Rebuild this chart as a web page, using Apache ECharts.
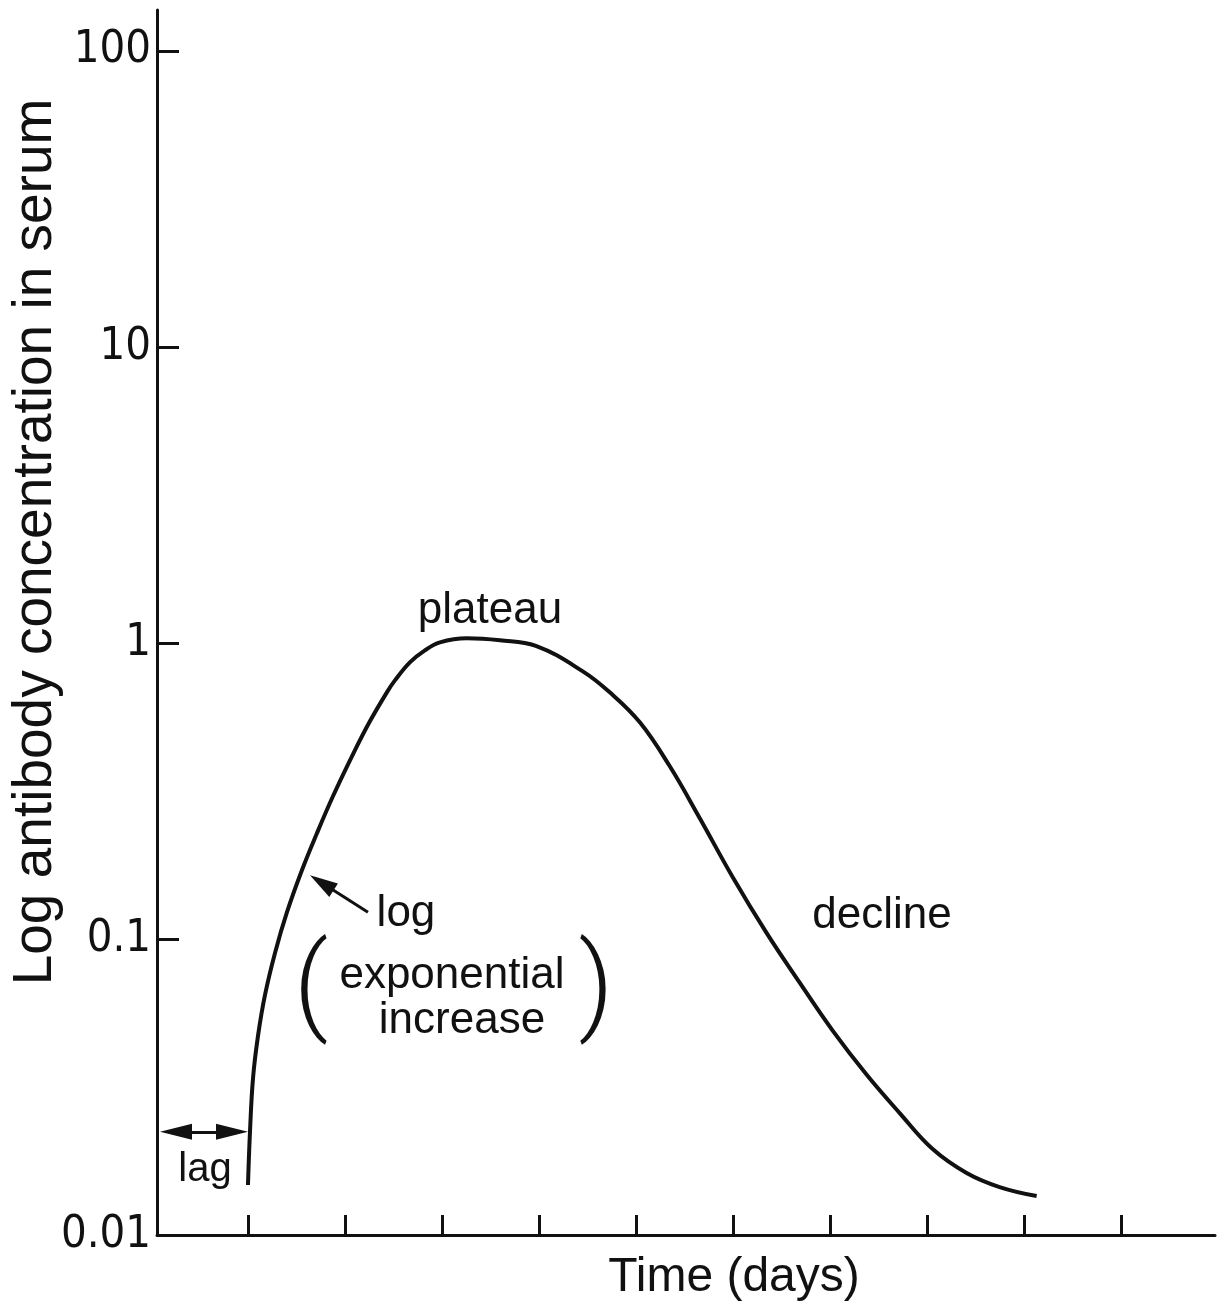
<!DOCTYPE html>
<html>
<head>
<meta charset="utf-8">
<script src="https://cdn.jsdelivr.net/npm/echarts@6/dist/echarts.min.js"></script>
<style>
  html, body { margin: 0; padding: 0; background: #fff; }
  #main { width: 1229px; height: 1307px; }
</style>
</head>
<body>
<div id="main"></div>
<script>
// time (ticks are unlabelled, one per step) and antibody level
const timeDays = [0.00, 0.021, 0.052, 0.103, 0.175, 0.278, 0.402, 0.556, 0.711, 0.876, 1.082, 1.257, 1.432, 1.515,
  1.669, 1.824, 1.979, 2.257, 2.597, 2.968, 3.452, 3.730, 4.040, 4.349, 4.658, 4.998, 5.348, 5.688, 6.028, 6.379,
  6.719, 7.059, 7.409, 7.749, 8.131];
const antibody = [0.01475, 0.02244, 0.03388, 0.04696, 0.06458, 0.08953, 0.1231, 0.1706, 0.2275, 0.3033, 0.4204,
  0.5433, 0.6807, 0.7469, 0.8595, 0.9434, 1.004, 1.036, 1.020, 0.977, 0.8014, 0.6807, 0.5391, 0.3829, 0.2557,
  0.1616, 0.1046, 0.07116, 0.04901, 0.03476, 0.02581, 0.01951, 0.0162, 0.01452, 0.01354];

const yTickValues = [0.01, 0.1, 1, 10, 100];
const yTickLabels = ['0.01', '0.1', '1', '10', '100'];
const xTickValues = [0, 1, 2, 3, 4, 5, 6, 7, 8, 9];

const INK = '#111';
const FONT = '"Liberation Sans", Arial, sans-serif';
const NARROW = '"Liberation Sans Narrow", "DejaVu Sans Condensed", "Liberation Sans", sans-serif';

const curve = timeDays.map((t, i) => [t, antibody[i]]);

// text annotations placed in data space
const note = (text, coord, size, extra) => ({
  coord: coord,
  symbol: 'circle',
  symbolSize: 1,
  itemStyle: { color: 'rgba(0,0,0,0)' },
  label: Object.assign({ show: true, position: 'inside', formatter: text, color: INK, fontSize: size || 44, fontFamily: FONT }, extra || {})
});
const paren = { fontFamily: 'Roboto, "Liberation Sans", sans-serif', fontWeight: 300 };

const head = 'path://M8,0 L16,30 L0,30 Z';

const chart = echarts.init(document.getElementById('main'), null, { renderer: 'canvas' });

chart.setOption({
  animation: false,
  backgroundColor: '#fff',
  grid: { left: 157, right: 14, top: 10, bottom: 72, containLabel: false, outerBoundsMode: 'none' },
  xAxis: {
    type: 'value',
    min: -0.938,
    max: 9.97,
    axisLine: { show: true, onZero: false, lineStyle: { color: INK, width: 3 } },
    axisTick: { show: true, inside: true, length: 20, lineStyle: { color: INK, width: 3 }, customValues: xTickValues },
    axisLabel: { show: false },
    splitLine: { show: false }
  },
  yAxis: {
    type: 'log',
    logBase: 10,
    min: 0.01,
    max: 137.3,
    axisLine: { show: true, onZero: false, lineStyle: { color: INK, width: 3 } },
    axisTick: { show: true, inside: true, length: 22, lineStyle: { color: INK, width: 3 }, customValues: yTickValues },
    axisLabel: {
      show: true,
      customValues: yTickValues,
      margin: 6,
      color: INK,
      fontSize: 45,
      fontFamily: NARROW,
      formatter: v => {
        const i = yTickValues.findIndex(t => Math.abs(Math.log10(t) - Math.log10(v)) < 1e-6);
        return i >= 0 ? yTickLabels[i] : '';
      }
    },
    splitLine: { show: false },
    minorTick: { show: false }
  },
  graphic: [
    {
      type: 'text', x: 36, y: 542, rotation: Math.PI / 2,
      style: { text: 'Log antibody concentration in serum', fill: INK, font: '55px ' + FONT, align: 'center', verticalAlign: 'middle' }
    },
    {
      type: 'text', x: 734, y: 1278,
      style: { text: 'Time (days)', fill: INK, font: '48px ' + FONT, align: 'center', verticalAlign: 'middle' }
    }
  ],
  series: [{
    type: 'line',
    data: curve,
    smooth: 0.4,
    showSymbol: false,
    silent: true,
    lineStyle: { color: INK, width: 4 },
    markPoint: {
      silent: true,
      data: [
        note('plateau', [2.495, 1.287]),
        note('decline', [6.536, 0.1193]),
        note('log', [1.629, 0.1213]),
        note('exponential', [2.103, 0.0748]),
        note('increase', [2.206, 0.0528]),
        note('lag', [-0.443, 0.01658], 40),
        note('(', [0.649, 0.0656], 108, paren),
        note(')', [3.588, 0.0656], 108, paren)
      ]
    },
    markLine: {
      silent: true,
      animation: false,
      label: { show: false },
      lineStyle: { color: INK, width: 3, type: 'solid' },
      data: [
        [
          { coord: [1.237, 0.1231], symbol: 'none' },
          { coord: [0.761, 0.1548], symbol: head, symbolSize: [16, 28] }
        ],
        [
          { coord: [-0.742, 0.02232], symbol: head, symbolSize: [16, 32] },
          { coord: [-0.165, 0.02232], symbol: head, symbolSize: [16, 32] }
        ]
      ]
    }
  }]
});
</script>
</body>
</html>
